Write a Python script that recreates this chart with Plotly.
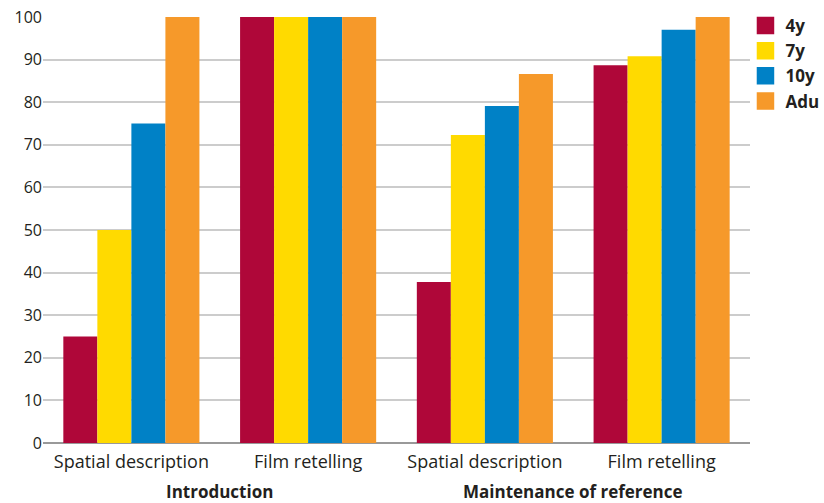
import plotly.graph_objects as go

# Task labels along the x axis and the section each pair belongs to
tasks = ["Spatial description", "Film retelling", "Spatial description", "Film retelling"]
sections = ["Introduction", "Maintenance of reference"]
section_span = [(0, 1), (2, 3)]

# Percentage scores per age group
groups = ["4y", "7y", "10y", "Adu"]
scores = {
    "4y": [25, 100, 37.8, 88.7],
    "7y": [50, 100, 72.3, 90.8],
    "10y": [75, 100, 79.1, 97.0],
    "Adu": [100, 100, 86.6, 100],
}
colors = {"4y": "#AF0739", "7y": "#FFDA00", "10y": "#0081C6", "Adu": "#F6992A"}

y_ticks = list(range(0, 101, 10))

font_family = "Open Sans, Noto Sans, sans-serif"
text_color = "#231F20"
x_pos = list(range(len(tasks)))

fig = go.Figure()
for g in groups:
    fig.add_trace(go.Bar(
        x=x_pos, y=scores[g], name=g, showlegend=False,
        marker=dict(color=colors[g], line=dict(width=0)),
    ))
    # legend key: larger square swatch per age group
    fig.add_trace(go.Scatter(
        x=[None], y=[None], mode="markers", name=g,
        marker=dict(symbol="square", size=16, color=colors[g],
                    line=dict(width=1.5, color=colors[g])),
    ))

for name, (a, b) in zip(sections, section_span):
    fig.add_annotation(
        x=(a + b) / 2, xref="x", y=0, yref="paper", yshift=-48,
        text=f"<b>{name}</b>", showarrow=False,
        font=dict(family=font_family, size=17, color=text_color),
        yanchor="middle",
    )

fig.update_layout(
    width=824, height=503,
    margin=dict(l=43, r=74, t=17, b=60, autoexpand=False),
    plot_bgcolor="white", paper_bgcolor="white",
    barmode="group", bargap=0.23, bargroupgap=0,
    font=dict(family=font_family, color=text_color),
    legend=dict(
        x=0.9936, xanchor="left", y=1.021, yanchor="top",
        font=dict(family=font_family, size=17, color=text_color, weight="bold"),
        itemsizing="trace", tracegroupgap=0,
        bgcolor="rgba(0,0,0,0)",
    ),
    showlegend=True,
)
fig.update_xaxes(
    tickmode="array", tickvals=x_pos, ticktext=tasks,
    range=[-0.5, len(tasks) - 0.5],
    showgrid=False, zeroline=False, showline=False, ticks="",
    ticklabelstandoff=6,
    tickfont=dict(family=font_family, size=18, color=text_color),
)
fig.update_yaxes(
    range=[0, 100], tickvals=y_ticks,
    showgrid=True, gridcolor="#CCCCCC", gridwidth=1.5,
    zeroline=True, zerolinecolor="#999999", zerolinewidth=2,
    showline=False, ticks="",
    tickfont=dict(family=font_family, size=16, color=text_color),
)

fig.write_html("out.html")
